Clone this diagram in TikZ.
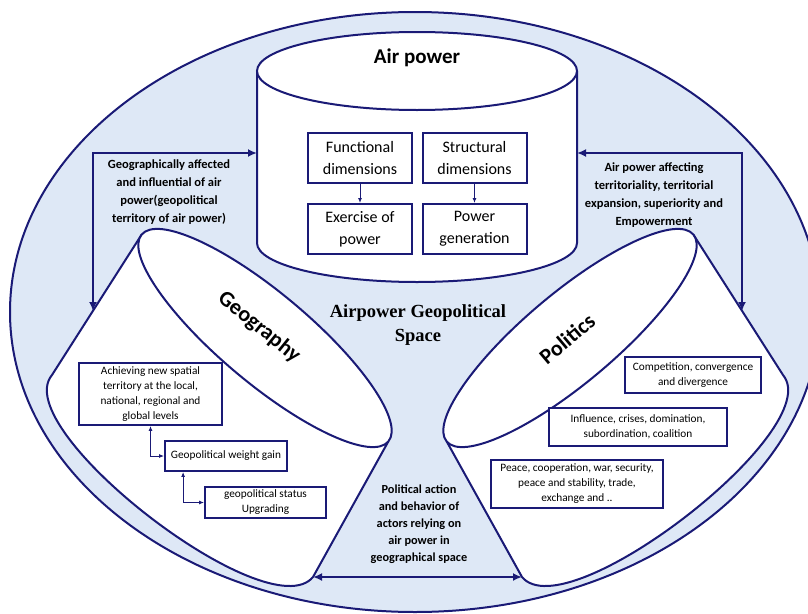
\documentclass[tikz,border=0pt]{standalone}
\usepackage{fontspec}
\setmainfont{Carlito}
\newfontfamily\timesfont{Liberation Serif}
\usetikzlibrary{arrows.meta}
\definecolor{navyline}{RGB}{26,26,118}
\definecolor{spacefill}{RGB}{222,232,246}

\begin{document}
\begin{tikzpicture}[x=1pt,y=-1pt,
  shape line/.style={draw=navyline,line width=2pt},
  dimbox/.style={draw=navyline,line width=2pt,fill=white,align=center,inner sep=1pt,
    minimum width=104pt,minimum height=50pt,font=\fontsize{16}{22}\selectfont},
  smallbox/.style={draw=navyline,line width=1.8pt,fill=white,align=center,inner sep=1pt,
    font=\fontsize{11.3}{15}\selectfont},
  notetext/.style={align=center,font=\fontsize{12.5}{18}\selectfont\bfseries},
  big arrow/.style={navyline,line width=2.2pt,{Latex[length=9pt,width=8pt]}-{Latex[length=9pt,width=8pt]}},
  small arrow/.style={navyline,line width=1pt,-{Latex[length=5pt,width=4pt]}},
  small link/.style={navyline,line width=1pt,{Latex[length=5pt,width=4pt]}-{Latex[length=5pt,width=4pt]}},
]

\useasboundingbox (0,0) rectangle (808,613);

% geopolitical space
\draw[shape line,fill=spacefill] (415,312) ellipse [x radius=405pt,y radius=300pt];

% air power cylinder
\draw[shape line,fill=white] (257,71) -- (257,243)
  arc[start angle=180,end angle=360,x radius=160pt,y radius=39pt] -- (577,71);
\draw[shape line,fill=white] (417,71) ellipse [x radius=160pt,y radius=39pt];

% geography cylinder
\draw[shape line,fill=white] (141.7,234.5) -- (52,375)
  .. controls (7.1,428.7) and (268.3,630.8) .. (313,577) -- (388.3,441.5);
\draw[shape line,fill=white,rotate around={-40:(265,338)}] (265,338) ellipse [x radius=161pt,y radius=45pt];

% politics cylinder
\draw[shape line,fill=white] (693.3,234.5) -- (783,375)
  .. controls (827.9,428.7) and (566.7,630.8) .. (522,577) -- (446.7,441.5);
\draw[shape line,fill=white,rotate around={40:(570,338)}] (570,338) ellipse [x radius=161pt,y radius=45pt];

\coordinate (geo in) at (93,311);
\coordinate (pol in) at (742,311);
\coordinate (air west) at (257,153);
\coordinate (air east) at (577,153);
\coordinate (geo foot) at (313,577);
\coordinate (pol foot) at (522,577);

\draw[big arrow] (geo in) |- (air west);
\draw[big arrow] (pol in) |- (air east);
\draw[big arrow] (geo foot) -- (pol foot);

\node[font=\fontsize{21}{25}\selectfont\bfseries] (air power) at (417,58) {Air power};

\node[dimbox] (functional) at (360,158) {Functional\\dimensions};
\node[dimbox] (structural) at (474.5,158) {Structural\\dimensions};
\node[dimbox] (exercise) at (360,229) {Exercise of\\power};
\node[dimbox] (generation) at (474.5,229) {Power\\generation};

\draw[small arrow] (functional) -- (exercise);
\draw[small arrow] (structural) -- (generation);

\node[notetext] (geo note) at (169,192) {Geographically affected\\and influential of air\\power(geopolitical\\territory of air power)};
\node[notetext] (pol note) at (654,195) {Air power affecting\\territoriality, territorial\\expansion, superiority and\\Empowerment};
\node[align=center,font=\timesfont\bfseries\fontsize{18.5}{24}\selectfont] (space) at (418,325) {Airpower Geopolitical\\Space};
\node[align=center,font=\fontsize{12.3}{17}\selectfont\bfseries] (action) at (419,524) {Political action\\and behavior of\\actors relying on\\air power in\\geographical space};

\node[rotate=-39,font=\fontsize{22}{26}\selectfont\bfseries] (geography) at (259,327) {Geography};
\node[rotate=40,font=\fontsize{22}{26}\selectfont\bfseries] (politics) at (567,339) {Politics};

\node[smallbox,minimum width=143pt,minimum height=62pt] (achieving) at (150.5,394) {Achieving new spatial\\territory at the local,\\national, regional and\\global levels};
\node[smallbox,minimum width=122pt,minimum height=30pt] (weight) at (226,456) {Geopolitical weight gain};
\node[smallbox,minimum width=121pt,minimum height=31pt] (status) at (265.5,502.5) {geopolitical status\\Upgrading};

\draw[small link] (achieving.south) |- (weight.west);
\draw[small link] ([xshift=19pt]weight.south west) |- (status.west);

\node[smallbox,minimum width=136pt,minimum height=36pt] (competition) at (693,375) {Competition, convergence\\and divergence};
\node[smallbox,minimum width=178pt,minimum height=38pt] (influence) at (638,427) {Influence, crises, domination,\\subordination, coalition};
\node[smallbox,minimum width=172pt,minimum height=48pt] (peace) at (577,484) {Peace, cooperation, war, security,\\peace and stability, trade,\\exchange and ..};

\end{tikzpicture}
\end{document}
